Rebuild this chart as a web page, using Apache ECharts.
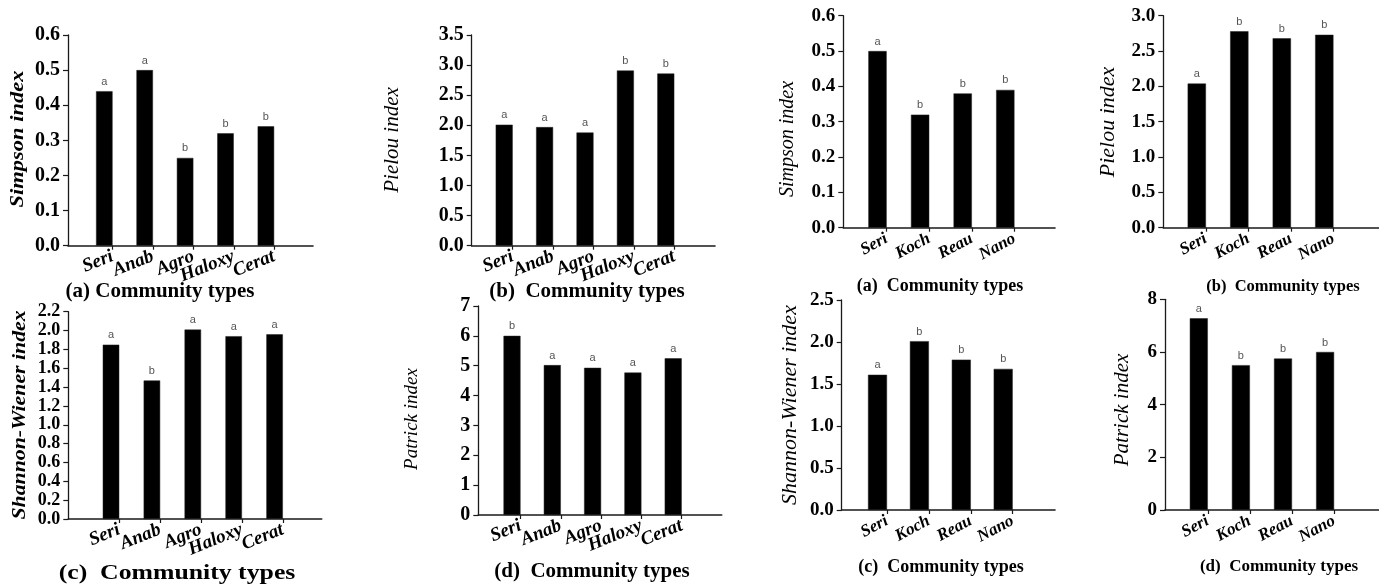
<!DOCTYPE html>
<html>
<head>
<meta charset="utf-8">
<script src="https://cdn.jsdelivr.net/npm/echarts@6/dist/echarts.min.js"></script>
<style>
html,body{margin:0;padding:0;background:#fff;}
#chart{width:1379px;height:586px;}
</style>
</head>
<body>
<div id="chart"></div>
<script>
// ---------- data ----------
const catsLeft = ['Seri', 'Anab', 'Agro', 'Haloxy', 'Cerat'];
const catsRight = ['Seri', 'Koch', 'Reau', 'Nano'];

const simpsonLeft = [0.44, 0.50, 0.25, 0.32, 0.34];
const simpsonLeftLetters = ['a', 'a', 'b', 'b', 'b'];
const pielouLeft = [2.01, 1.97, 1.88, 2.91, 2.86];
const pielouLeftLetters = ['a', 'a', 'a', 'b', 'b'];
const shannonLeft = [1.85, 1.47, 2.01, 1.94, 1.96];
const shannonLeftLetters = ['a', 'b', 'a', 'a', 'a'];
const patrickLeft = [6.00, 5.02, 4.93, 4.77, 5.25];
const patrickLeftLetters = ['b', 'a', 'a', 'a', 'a'];

const simpsonRight = [0.50, 0.32, 0.38, 0.39];
const simpsonRightLetters = ['a', 'b', 'b', 'b'];
const pielouRight = [2.04, 2.78, 2.68, 2.73];
const pielouRightLetters = ['a', 'b', 'b', 'b'];
const shannonRight = [1.61, 2.01, 1.79, 1.68];
const shannonRightLetters = ['a', 'b', 'b', 'b'];
const patrickRight = [7.28, 5.50, 5.75, 6.00];
const patrickRightLetters = ['a', 'b', 'b', 'b'];

// y-axis ranges: [min, max, step]
const simpsonLeftTicks = [0, 0.6, 0.1];
const pielouLeftTicks = [0, 3.5, 0.5];
const shannonLeftTicks = [0, 2.2, 0.2];
const patrickLeftTicks = [0, 7, 1];
const simpsonRightTicks = [0, 0.6, 0.1];
const pielouRightTicks = [0, 3.0, 0.5];
const shannonRightTicks = [0, 2.5, 0.5];
const patrickRightTicks = [0, 8, 2];

const titles = ['Simpson index', 'Pielou index', 'Simpson index', 'Pielou index',
                'Shannon-Wiener index', 'Patrick index', 'Shannon-Wiener index', 'Patrick index'];
const captions = ['(a) Community types', '(b)  Community types', '(a)  Community types', '(b)  Community types',
                  '(c)  Community types', '(d)  Community types', '(c)  Community types', '(d)  Community types'];

// ---------- layout (positions / styles) ----------
const SERIF = '"Liberation Serif", "Times New Roman", serif';
const layouts = [
  {ax: 68, xEnd: 313, top: 35, bottom: 245.7, c0: 104.3, band: 40.4, bw: 16.5, rot: 22, lab: 19, tk: 20, dec: 1,
   t: {x: 18, y: 139, font: 'italic bold 18px', sx: 1.25}, c: {x: 160, y: 292, size: 21, sx: 1}},
  {ax: 471.7, xEnd: 715, top: 35, bottom: 245.7, c0: 504.2, band: 40.4, bw: 17, rot: 22, lab: 19, tk: 20, dec: 1,
   t: {x: 392, y: 140, font: 'italic 21px', sx: 1}, c: {x: 587, y: 292, size: 21, sx: 1}},
  {ax: 843.3, xEnd: 1055, top: 15.7, bottom: 227.7, c0: 877.5, band: 42.6, bw: 18.3, rot: 28, lab: 17, tk: 19, dec: 1,
   t: {x: 788, y: 139, font: 'italic 20px', sx: 1}, c: {x: 940, y: 286, size: 18, sx: 1}},
  {ax: 1163.3, xEnd: 1379, top: 15.7, bottom: 227.7, c0: 1196.8, band: 42.5, bw: 18.3, rot: 28, lab: 17, tk: 19, dec: 1,
   t: {x: 1108, y: 122, font: 'italic 22px', sx: 1}, c: {x: 1283, y: 287, size: 16.5, sx: 1}},
  {ax: 68.3, xEnd: 321.7, top: 311.7, bottom: 519, c0: 111, band: 40.9, bw: 16.5, rot: 22, lab: 19, tk: 18, dec: 1,
   t: {x: 20, y: 415, font: 'italic bold 18px', sx: 1.21}, c: {x: 177, y: 573, size: 22, sx: 1.17}},
  {ax: 478.3, xEnd: 721.7, top: 306, bottom: 515, c0: 512, band: 40.3, bw: 17, rot: 22, lab: 19, tk: 20, dec: 0,
   t: {x: 412, y: 419, font: 'italic 19px', sx: 1}, c: {x: 592, y: 572, size: 21, sx: 1}},
  {ax: 841.7, xEnd: 1055, top: 300, bottom: 510, c0: 877.5, band: 41.9, bw: 19, rot: 28, lab: 17, tk: 19, dec: 1,
   t: {x: 790, y: 405, font: 'italic 22px', sx: 1}, c: {x: 941, y: 567, size: 18, sx: 1}},
  {ax: 1165, xEnd: 1379, top: 299.3, bottom: 510, c0: 1198.8, band: 42.1, bw: 18, rot: 28, lab: 17, tk: 19, dec: 0,
   t: {x: 1122, y: 410, font: 'italic 21px', sx: 1}, c: {x: 1279, y: 567, size: 17, sx: 1}}
];

const panels = [
  {cats: catsLeft, values: simpsonLeft, letters: simpsonLeftLetters, ticks: simpsonLeftTicks},
  {cats: catsLeft, values: pielouLeft, letters: pielouLeftLetters, ticks: pielouLeftTicks},
  {cats: catsRight, values: simpsonRight, letters: simpsonRightLetters, ticks: simpsonRightTicks},
  {cats: catsRight, values: pielouRight, letters: pielouRightLetters, ticks: pielouRightTicks},
  {cats: catsLeft, values: shannonLeft, letters: shannonLeftLetters, ticks: shannonLeftTicks},
  {cats: catsLeft, values: patrickLeft, letters: patrickLeftLetters, ticks: patrickLeftTicks},
  {cats: catsRight, values: shannonRight, letters: shannonRightLetters, ticks: shannonRightTicks},
  {cats: catsRight, values: patrickRight, letters: patrickRightLetters, ticks: patrickRightTicks}
];

const option = {animation: false, backgroundColor: '#fff', grid: [], xAxis: [], yAxis: [], series: [], graphic: []};
const AX = '#1a1a1a';

panels.forEach((p, i) => {
  const L = layouts[i];
  const n = p.cats.length;
  const h = L.bottom - L.top;
  const [mn, mx, st] = p.ticks;
  const b = 3 * i;
  // grid A: bars, grid B: category ticks + labels, grid C: frame axes
  option.grid.push({left: L.c0 - L.band / 2, top: L.top, width: L.band * n, height: h});
  option.grid.push({left: L.c0 + L.bw / 2, top: L.top, width: L.band * (n - 1), height: h});
  option.grid.push({left: L.ax, top: L.top, width: L.xEnd - L.ax, height: h});

  option.xAxis.push({gridIndex: b, type: 'category', data: p.cats,
    axisLine: {show: false}, axisTick: {show: false}, axisLabel: {show: false}});
  option.xAxis.push({gridIndex: b + 1, type: 'category', data: p.cats, boundaryGap: false,
    axisLine: {show: false},
    axisTick: {show: true, length: 4, lineStyle: {color: AX, width: 1.2}},
    axisLabel: {interval: 0, rotate: L.rot, margin: 10, color: '#000', hideOverlap: false,
      fontFamily: SERIF, fontWeight: 'bold', fontStyle: 'italic', fontSize: L.lab}});
  option.xAxis.push({gridIndex: b + 2, type: 'value', min: 0, max: 1,
    axisLine: {show: true, lineStyle: {color: AX, width: 1.6}},
    axisTick: {show: false}, axisLabel: {show: false}, splitLine: {show: false}});

  option.yAxis.push({gridIndex: b, type: 'value', min: mn, max: mx, show: false, splitLine: {show: false}});
  option.yAxis.push({gridIndex: b + 1, type: 'value', min: mn, max: mx, show: false, splitLine: {show: false}});
  option.yAxis.push({gridIndex: b + 2, type: 'value', min: mn, max: mx, interval: st,
    axisLine: {show: true, lineStyle: {color: AX, width: 1.3}},
    axisTick: {show: true, length: 5, lineStyle: {color: AX, width: 1.2}},
    axisLabel: {margin: 8, color: '#000', fontFamily: SERIF, fontWeight: 'bold', fontSize: L.tk,
      showMinLabel: true, showMaxLabel: true, hideOverlap: false,
      formatter: v => v.toFixed(L.dec)},
    splitLine: {show: false}});

  option.series.push({type: 'bar', xAxisIndex: b, yAxisIndex: b, data: p.values,
    barWidth: L.bw, itemStyle: {color: '#000', borderColor: '#222', borderWidth: 0.5},
    label: {show: true, position: 'top', distance: 4, color: '#555',
      fontFamily: '"Liberation Sans", Arial, sans-serif', fontSize: 11,
      formatter: prm => p.letters[prm.dataIndex]}});

  option.graphic.push({type: 'text', x: L.t.x, y: L.t.y, rotation: Math.PI / 2, scaleX: L.t.sx, scaleY: 1,
    style: {text: titles[i], font: L.t.font + ' ' + SERIF, fill: '#000',
      align: 'center', verticalAlign: 'middle', textAlign: 'center', textVerticalAlign: 'middle'}});
  option.graphic.push({type: 'text', x: L.c.x, y: L.c.y, scaleX: L.c.sx, scaleY: 1,
    style: {text: captions[i], font: 'bold ' + L.c.size + 'px ' + SERIF, fill: '#000',
      align: 'center', verticalAlign: 'middle', textAlign: 'center', textVerticalAlign: 'middle'}});
});

const chart = echarts.init(document.getElementById('chart'), null, {renderer: 'canvas'});
chart.setOption(option);
</script>
</body>
</html>
